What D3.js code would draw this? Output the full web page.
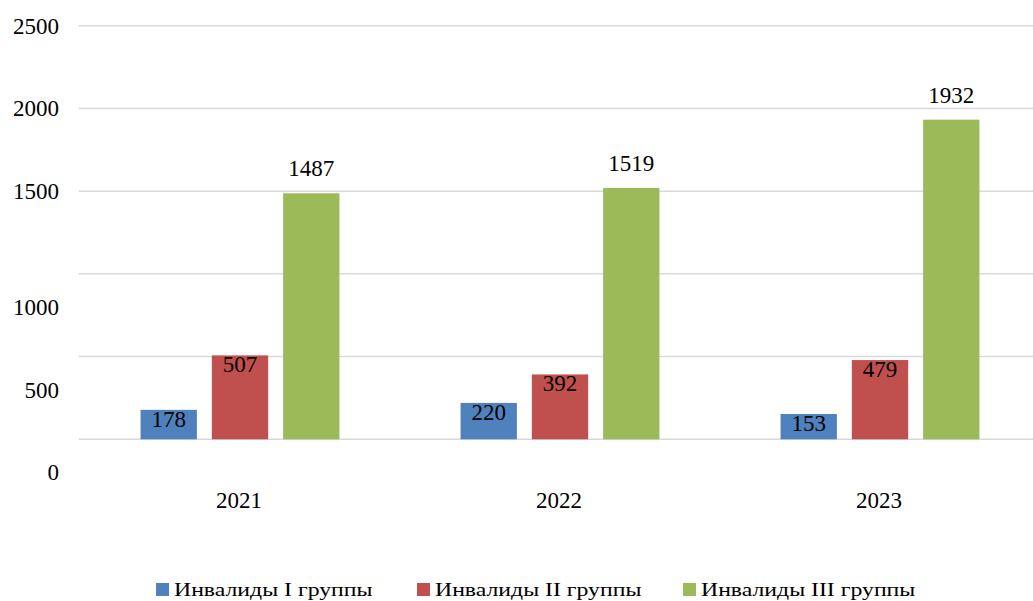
<!DOCTYPE html>
<html>
<head>
<script src="https://cdn.jsdelivr.net/npm/d3@7"></script>
</head>
<body style="margin:0">
<svg width="1033" height="601"></svg>
<script>
// data
const years = ["2021", "2022", "2023"];
const series = ["Инвалиды I группы", "Инвалиды II группы", "Инвалиды III группы"];
const group1 = [178, 220, 153];
const group2 = [507, 392, 479];
const group3 = [1487, 1519, 1932];
const yTicks = [0, 500, 1000, 1500, 2000, 2500];
const colors = ["#4f81bd", "#c0504d", "#9bbb59"];

const FONT = "'Times New Roman', 'Liberation Serif', Tinos";

function render_chart()
{
    let svg = d3.select("svg");
    let values = [group1, group2, group3];

    let x0 = d3.scaleBand()
        .domain(years)
        .range([80, 1040]);
    let x1 = d3.scaleBand()
        .domain(series)
        .range([0, x0.bandwidth()])
        .paddingInner(0.21)
        .paddingOuter(0.85);
    let y = d3.scaleLinear()
        .domain([0, 2500])
        .range([439.3, 25.7]);

    // gridlines
    svg.selectAll("line.grid")
        .data(yTicks)
        .enter()
        .append("line")
            .attr("class", "grid")
            .attr("x1", 79)
            .attr("x2", 1033)
            .attr("y1", d => y(d))
            .attr("y2", d => y(d))
            .style("stroke", "#d9d9d9")
            .style("stroke-width", 1.5);

    // y labels (lower ones sit lower than their gridline in the original)
    svg.selectAll("text.ytick")
        .data(yTicks)
        .enter()
        .append("text")
            .attr("class", "ytick")
            .attr("x", 59)
            .attr("y", d => y(d) + (d <= 1000 ? 41 : 8))
            .attr("text-anchor", "end")
            .style("font-family", FONT)
            .style("font-size", "23px")
            .text(d => d);

    // bars
    let rows = [];
    years.forEach(function(yr, i) {
        series.forEach(function(s, j) {
            rows.push({ year: yr, series: s, idx: j, value: values[j][i] });
        });
    });

    svg.selectAll("rect.bar")
        .data(rows)
        .enter()
        .append("rect")
            .attr("class", "bar")
            .attr("x", d => x0(d.year) + x1(d.series))
            .attr("y", d => y(d.value))
            .attr("width", x1.bandwidth())
            .attr("height", d => y(0) - y(d.value))
            .style("fill", d => colors[d.idx]);

    // value labels: inside top for small bars, above for the big ones
    svg.selectAll("text.value")
        .data(rows)
        .enter()
        .append("text")
            .attr("class", "value")
            .attr("x", d => x0(d.year) + x1(d.series) + x1.bandwidth() / 2)
            .attr("y", d => d.idx == 2 ? y(d.value) - 17 : y(d.value) + 17)
            .attr("text-anchor", "middle")
            .style("font-family", FONT)
            .style("font-size", "23px")
            .text(d => d.value);

    // x labels
    svg.selectAll("text.year")
        .data(years)
        .enter()
        .append("text")
            .attr("class", "year")
            .attr("x", d => x0(d) + x0.bandwidth() / 2 - 1)
            .attr("y", 508)
            .attr("text-anchor", "middle")
            .style("font-family", FONT)
            .style("font-size", "23px")
            .text(d => d);

    // legend (text is stretched sideways in the original)
    let legendX = [156, 417, 683];
    svg.selectAll("rect.key")
        .data(series)
        .enter()
        .append("rect")
            .attr("class", "key")
            .attr("x", (d, i) => legendX[i])
            .attr("y", 583)
            .attr("width", 13)
            .attr("height", 13)
            .style("fill", (d, i) => colors[i]);
    svg.selectAll("text.key")
        .data(series)
        .enter()
        .append("text")
            .attr("class", "key")
            .attr("x", (d, i) => legendX[i] + 18)
            .attr("y", 596)
            .style("font-family", FONT)
            .style("font-size", "19px")
            .text(d => d)
            .each(function() {
                let len = this.getComputedTextLength();
                d3.select(this)
                    .attr("textLength", len * 1.25)
                    .attr("lengthAdjust", "spacingAndGlyphs");
            });
}

render_chart();
</script>
</body>
</html>
